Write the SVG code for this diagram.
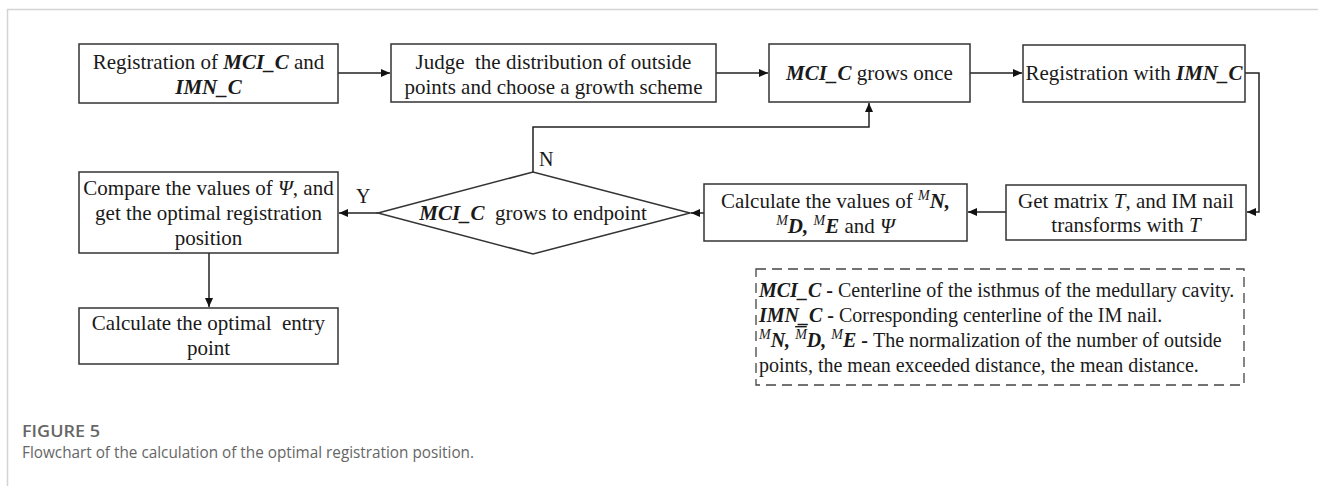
<svg xmlns="http://www.w3.org/2000/svg" width="1318" height="486" viewBox="0 0 1318 486">
<style>
.box{fill:#fff;stroke:#333;stroke-width:1.5}
.t{font-family:"Liberation Serif","Times New Roman",serif;font-size:21px;fill:#1a1a1a}
.lg{font-family:"Liberation Serif","Times New Roman",serif;font-size:20px;fill:#1a1a1a}
.bi{font-weight:bold;font-style:italic}
.b{font-weight:bold}
.i{font-style:italic}
.sup{font-style:italic;font-size:14px}
.con{fill:none;stroke:#222;stroke-width:1.5}
.cap{font-family:"Open Sans","Liberation Sans",sans-serif;fill:#666}
</style>
<defs>
<marker id="ah" markerUnits="userSpaceOnUse" markerWidth="10" markerHeight="8" refX="9" refY="4" orient="auto">
<path d="M0,0 L9,4 L0,8 Z" fill="#111"/>
</marker>
</defs>
<rect width="1318" height="486" fill="#fff"/>
<path d="M7.5,486 V9.5 H1318" fill="none" stroke="#d4d4d4" stroke-width="1.5"/>

<g id="connectors">
<path class="con" d="M338,73 H390" marker-end="url(#ah)"/>
<path class="con" d="M716,73 H768" marker-end="url(#ah)"/>
<path class="con" d="M970,73 H1022" marker-end="url(#ah)"/>
<path class="con" d="M1245,73 H1259 V212 H1247" marker-end="url(#ah)"/>
<path class="con" d="M1006,212 H968" marker-end="url(#ah)"/>
<path class="con" d="M704,213 H691" marker-end="url(#ah)"/>
<path class="con" d="M533,172 V127 H869 V103" marker-end="url(#ah)"/>
<path class="con" d="M378,213 H339" marker-end="url(#ah)"/>
<path class="con" d="M209,253 V307" marker-end="url(#ah)"/>
<text class="lg" x="539" y="166">N</text>
<text class="lg" x="356" y="203">Y</text>
</g>

<g id="n1">
<rect class="box" x="79" y="44" width="259" height="59"/>
<text class="t" x="208.5" y="69" text-anchor="middle">Registration of <tspan class="bi">MCI_C</tspan> and</text>
<text class="t bi" x="208.5" y="94" text-anchor="middle">IMN_C</text>
</g>

<g id="n2">
<rect class="box" x="391" y="44" width="325" height="58"/>
<text class="t" x="553.5" y="69" text-anchor="middle" xml:space="preserve">Judge  the distribution of outside</text>
<text class="t" x="553.5" y="94" text-anchor="middle">points and choose a growth scheme</text>
</g>

<g id="n3">
<rect class="box" x="769" y="44" width="201" height="58"/>
<text class="t" x="869.5" y="80" text-anchor="middle"><tspan class="bi">MCI_C</tspan> grows once</text>
</g>

<g id="n4">
<rect class="box" x="1023" y="45" width="222" height="57"/>
<text class="t" x="1134" y="80" text-anchor="middle">Registration with <tspan class="bi">IMN_C</tspan></text>
</g>

<g id="n5">
<rect class="box" x="1006" y="185" width="240" height="55"/>
<text class="t" x="1126" y="208" text-anchor="middle">Get matrix <tspan class="i">T</tspan>, and IM nail</text>
<text class="t" x="1126" y="232" text-anchor="middle">transforms with <tspan class="i">T</tspan></text>
</g>

<g id="n6">
<rect class="box" x="704" y="184" width="263" height="57"/>
<text class="t" x="835.5" y="208" text-anchor="middle">Calculate the values of <tspan class="sup" dy="-8">M</tspan><tspan class="bi" dy="8">N,</tspan></text>
<text class="t" x="835.5" y="233" text-anchor="middle"><tspan class="sup" dy="-8">M</tspan><tspan class="bi" dy="8">D,</tspan> <tspan class="sup" dy="-8">M</tspan><tspan class="bi" dy="8">E</tspan> and <tspan class="i">Ψ</tspan></text>
</g>

<g id="n7">
<polygon class="box" points="378,213 533,172 690,213 533,254"/>
<text class="t" x="533" y="220" text-anchor="middle" xml:space="preserve"><tspan class="bi">MCI_C</tspan>  grows to endpoint</text>
</g>

<g id="n8">
<rect class="box" x="79" y="172" width="259" height="81"/>
<text class="t" x="208.5" y="195" text-anchor="middle">Compare the values of <tspan class="i">Ψ</tspan>, and</text>
<text class="t" x="208.5" y="220" text-anchor="middle">get the optimal registration</text>
<text class="t" x="208.5" y="245" text-anchor="middle">position</text>
</g>

<g id="n9">
<rect class="box" x="79" y="308" width="259" height="56"/>
<text class="t" x="208.5" y="330" text-anchor="middle" xml:space="preserve">Calculate the optimal  entry</text>
<text class="t" x="208.5" y="355" text-anchor="middle">point</text>
</g>

<g id="legend">
<rect x="756" y="269" width="488" height="116" fill="none" stroke="#444" stroke-width="1.3" stroke-dasharray="10,6"/>
<text class="lg" x="759" y="297"><tspan class="bi">MCI_C</tspan><tspan class="b"> - </tspan>Centerline of the isthmus of the medullary cavity.</text>
<text class="lg" x="759" y="322"><tspan class="bi">IMN_C</tspan><tspan class="b"> - </tspan>Corresponding centerline of the IM nail.</text>
<text class="lg" x="759" y="347"><tspan class="sup" dy="-8">M</tspan><tspan class="bi" dy="8">N, </tspan><tspan class="sup" dy="-8" text-decoration="overline">M</tspan><tspan class="bi" dy="8">D, </tspan><tspan class="sup" dy="-8">M</tspan><tspan class="bi" dy="8">E</tspan><tspan class="b"> - </tspan>The normalization of the number of outside</text>
<text class="lg" x="759" y="372">points, the mean exceeded distance, the mean distance.</text>
</g>

<g id="caption">
<text class="cap" x="22" y="437" font-size="17" font-weight="600" fill="#555" textLength="78" lengthAdjust="spacingAndGlyphs">FIGURE 5</text>
<text class="cap" x="22" y="458" font-size="17" textLength="452" lengthAdjust="spacingAndGlyphs">Flowchart of the calculation of the optimal registration position.</text>
</g>
</svg>
